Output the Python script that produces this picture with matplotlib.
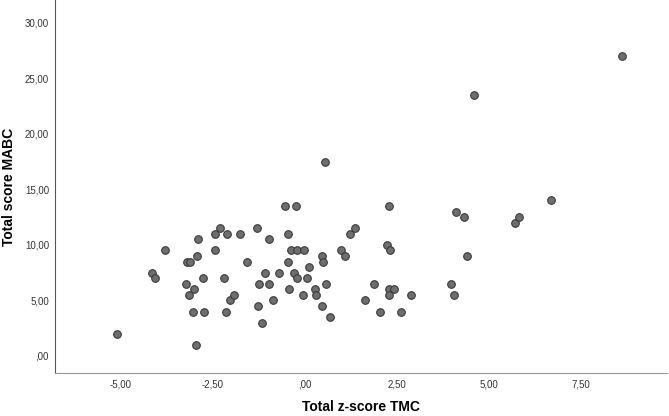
import matplotlib
matplotlib.use("Agg")
import matplotlib.pyplot as plt
from matplotlib.ticker import FuncFormatter

plt.rcParams['font.family'] = ['Liberation Sans', 'DejaVu Sans']

# Total z-score TMC
tmc = [-5.11, -4.14, -4.06, -3.79, -3.22, -3.02, -3.15, -3.20, -3.13, -2.94,
       -2.90, -2.95, -3.03, -2.77, -2.73, -2.43, -2.44, -2.29, -2.12, -2.20,
       -2.14, -2.04, -1.92, -1.75, -1.56, -1.30, -1.26, -1.24, -1.15, -1.07,
       -0.97, -0.96, -0.87, -0.71, -0.53, -0.46, -0.46, -0.43, -0.36, -0.29,
       -0.23, -0.22, -0.20, -0.03, -0.04, 0.05, 0.11, 0.29, 0.32, 0.46,
       0.50, 0.48, 0.54, 0.58, 0.69, 1.00, 1.09, 1.22, 1.38, 1.64,
       1.88, 2.06, 2.25, 2.28, 2.32, 2.30, 2.44, 2.30, 2.62, 2.89,
       3.97, 4.07, 4.12, 4.33, 4.42, 4.61, 5.71, 5.84, 6.71, 8.63]
# Total score MABC
mabc = [2.0, 7.5, 7.0, 9.5, 6.5, 6.0, 5.5, 8.5, 8.5, 9.0,
        10.5, 1.0, 4.0, 7.0, 4.0, 9.5, 11.0, 11.5, 11.0, 7.0,
        4.0, 5.0, 5.5, 11.0, 8.5, 11.5, 4.5, 6.5, 3.0, 7.5,
        10.5, 6.5, 5.0, 7.5, 13.5, 11.0, 8.5, 6.0, 9.5, 7.5,
        13.5, 7.0, 9.5, 9.5, 5.5, 7.0, 8.0, 6.0, 5.5, 9.0,
        8.5, 4.5, 17.5, 6.5, 3.5, 9.5, 9.0, 11.0, 11.5, 5.0,
        6.5, 4.0, 10.0, 13.5, 9.5, 6.0, 6.0, 5.5, 4.0, 5.5,
        6.5, 5.5, 13.0, 12.5, 9.0, 23.5, 12.0, 12.5, 14.0, 27.0]

xticks = [-5, -2.5, 0, 2.5, 5, 7.5]
yticks = [0, 5, 10, 15, 20, 25, 30]


def comma_fmt(v, pos):
    s = f"{v:.2f}".replace('.', ',')
    if s.startswith('0,'):
        s = s[1:]
    elif s.startswith('-0,'):
        s = '-' + s[2:]
    return s


fig = plt.figure(figsize=(6.69, 4.16), dpi=100)
ax = fig.add_axes([0.0815, 0.1034, 0.9155, 0.8956])

ax.scatter(tmc, mabc, s=30, c='#6e6e6e', edgecolors='#3a3a3a', linewidths=0.8, zorder=3)

ax.set_xlim(-6.8, 9.85)
ax.set_ylim(-1.53, 32.0)
ax.set_xticks(xticks)
ax.set_yticks(yticks)
ax.xaxis.set_major_formatter(FuncFormatter(comma_fmt))
ax.yaxis.set_major_formatter(FuncFormatter(comma_fmt))

for side in ['top', 'right']:
    ax.spines[side].set_visible(False)
ax.spines['left'].set_color('#555555')
ax.spines['bottom'].set_color('#999999')
ax.tick_params(length=0, labelsize=7, labelcolor='#333333')
ax.tick_params(axis='x', pad=4.8)
ax.tick_params(axis='y', pad=4)

ax.set_xlabel('Total z-score TMC', fontsize=10, fontweight='bold')
ax.set_ylabel('Total score MABC', fontsize=10, fontweight='bold')
ax.xaxis.set_label_coords(0.5, -0.0725)
ax.yaxis.set_label_coords(-0.0625, 0.5)

fig.savefig('out.png', dpi=100)
